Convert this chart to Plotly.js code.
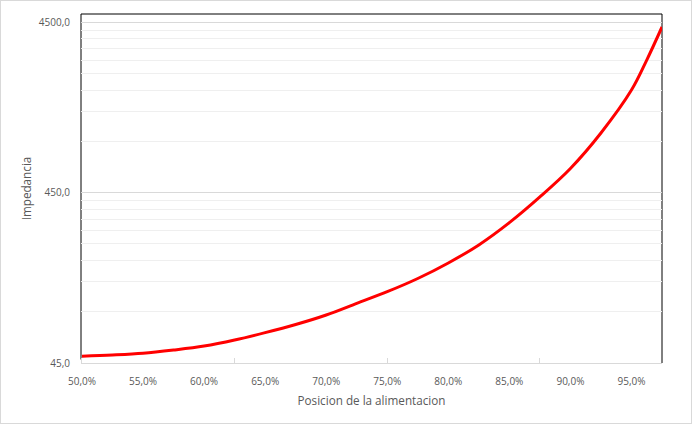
<!DOCTYPE html>
<html>
<head>
<meta charset="utf-8">
<script src="https://cdn.plot.ly/plotly-3.0.1.min.js"></script>
<style>
html,body{margin:0;padding:0;background:#fff;}
#wrap{position:relative;width:692px;height:424px;}
#chart{width:692px;height:424px;}
#frame{position:absolute;left:0;top:0;width:690px;height:422px;border:1px solid #d9d9d9;pointer-events:none;}
</style>
</head>
<body>
<div id="wrap"><div id="chart"></div><div id="frame"></div></div>
<script>
// Feed position (%) and impedance values
const posicion = [50, 52.5, 55, 57.5, 60, 62.5, 65, 67.5, 70, 72.5, 75, 77.5, 80, 82.5, 85, 87.5, 90, 92.5, 95, 96.25, 97.5];
const impedancia = [49.3, 50.1, 51.3, 53.6, 56.6, 61.4, 67.8, 75.7, 86.1, 100.8, 118, 141, 174, 222, 300, 425, 624, 1008, 1800, 2700, 4223];

const xTickVals = [50, 55, 60, 65, 70, 75, 80, 85, 90, 95];
const xTickText = ['50,0%', '55,0%', '60,0%', '65,0%', '70,0%', '75,0%', '80,0%', '85,0%', '90,0%', '95,0%'];
const yTickVals = [45, 450, 4500];
const yTickText = ['45,0', '450,0', '4500,0'];
const yMinorVals = [90, 135, 180, 225, 270, 315, 360, 405, 900, 1350, 1800, 2250, 2700, 3150, 3600, 4050];

const txt = '#595959';
const fontFam = '"Open Sans", "Noto Sans", sans-serif';

const trace = {
  x: posicion, y: impedancia, type: 'scatter', mode: 'lines',
  line: {color: '#ff0000', width: 3, shape: 'spline', smoothing: 1},
  hoverinfo: 'skip', showlegend: false, cliponaxis: true
};

const layout = {
  width: 692, height: 424,
  margin: {l: 81, r: 30, t: 14, b: 61},
  paper_bgcolor: '#ffffff', plot_bgcolor: '#ffffff',
  font: {family: fontFam, color: txt, size: 10},
  showlegend: false,
  xaxis: {
    range: [49.92, 97.5],
    tickmode: 'array', tickvals: xTickVals, ticktext: xTickText,
    ticks: '', showgrid: false, zeroline: false,
    showline: true, linecolor: '#d9d9d9', linewidth: 1,
    ticklabelstandoff: 9,
    tickfont: {size: 10, color: txt},
    minor: {tick0: 62.5, dtick: 12.5, ticks: 'inside', ticklen: 5, tickcolor: '#d9d9d9', tickwidth: 1, showgrid: false},
    title: {text: 'Posicion de la alimentacion', font: {size: 11.7, color: txt}, standoff: 9}
  },
  yaxis: {
    type: 'log',
    range: [Math.log10(45), 3.7019],
    tickmode: 'array', tickvals: yTickVals, ticktext: yTickText,
    ticks: '', showgrid: true, gridcolor: '#d9d9d9', gridwidth: 1, zeroline: false,
    showline: false,
    ticklabelstandoff: 10,
    tickfont: {size: 10, color: txt},
    minor: {tickmode: 'array', tickvals: yMinorVals, ticks: '', showgrid: true, gridcolor: '#efefef', gridwidth: 1},
    title: {text: 'Impedancia', font: {size: 11.7, color: txt}, standoff: 4}
  },
  shapes: [
    {type: 'line', xref: 'paper', yref: 'paper', x0: 0, x1: 1, y0: 1, y1: 1, line: {color: '#000', width: 1}, layer: 'below'},
    {type: 'line', xref: 'paper', yref: 'paper', x0: 0, x1: 0, y0: 0.01, y1: 1, line: {color: '#000', width: 1}, layer: 'below'},
    {type: 'line', xref: 'paper', yref: 'paper', x0: 1, x1: 1, y0: 0, y1: 1, line: {color: '#000', width: 1}, layer: 'below'}
  ]
};

Plotly.newPlot('chart', [trace], layout, {displayModeBar: false, staticPlot: true});
</script>
</body>
</html>
